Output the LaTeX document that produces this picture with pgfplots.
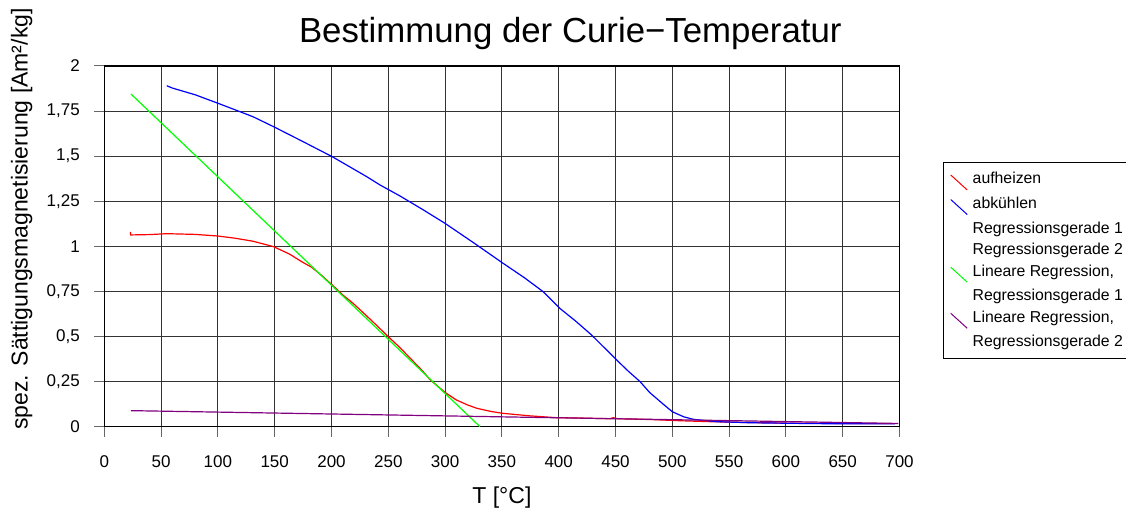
\documentclass[border=0pt]{standalone}
\usepackage{fontspec}
\setmainfont{Liberation Sans}
\usepackage{pgfplots}
\pgfplotsset{compat=1.18}
\definecolor{lgreen}{RGB}{0,255,0}
\definecolor{lpurple}{RGB}{128,0,128}
\begin{document}
\begin{tikzpicture}[x=1pt,y=1pt]
\useasboundingbox (0,0) rectangle (1126,515);
\begin{axis}[
  at={(104.3pt,88.3pt)}, anchor=south west,
  scale only axis, width=795.2pt, height=360.8pt,
  xmin=0, xmax=700, ymin=0, ymax=2,
  xtick={0,50,...,700},
  ytick={0,0.25,0.5,0.75,1,1.25,1.5,1.75,2},
  grid=major,
  major grid style={black!80, line width=1pt},
  axis line style={black, line width=1.5pt},
  tick pos=left,
  tick align=outside, major tick length=10pt,
  tick style={black!60, line width=1pt},
  /pgf/number format/assume math mode=true,
  /pgf/number format/use comma,
  /pgf/number format/1000 sep={},
  yticklabel style={/pgf/number format/fixed, /pgf/number format/precision=2, xshift=-11pt},
  xticklabel style={yshift=-15pt},
  tick label style={font=\fontsize{17}{20}\selectfont},
  every axis title shift=0pt,
  title={Bestimmung der Curie−Temperatur},
  title style={at={(axis description cs:0.586,1.0662)}, anchor=base, font=\fontsize{34.8}{40}\selectfont},
  xlabel={T [°C]},
  xlabel style={at={(axis description cs:0.5,-0.195)}, anchor=center, font=\fontsize{23}{27}\selectfont},
  ylabel={spez. Sättigungsmagnetisierung [Am²/kg]},
  ylabel style={at={(axis description cs:-0.1039,0.5757)}, anchor=center, font=\fontsize{23}{27}\selectfont},
  legend style={at={(axis description cs:1.055,0.7336)}, anchor=north west, draw=black, line width=1pt,
    font=\fontsize{15.8}{21}\selectfont, cells={anchor=base west}, row sep=4.6pt, column sep=3pt,
    inner ysep=8pt},
  legend image code/.code={\draw[#1, line width=1pt] (4pt,9pt) -- (20.5pt,-6pt);},
]
\addplot[red, line width=1.2pt] coordinates {
(23,1.080) (23.2,1.063) (40,1.065) (55,1.070) (80,1.066) (100,1.057) (115,1.045)
(131,1.028) (149,0.998) (163,0.957) (175,0.910) (182.5,0.884) (192,0.835)
(201.6,0.780) (210,0.730) (219,0.684) (230,0.620) (240,0.560) (250,0.499)
(260,0.440) (270,0.375) (280,0.310) (287,0.259) (300,0.190) (310,0.148)
(320,0.120) (328,0.102) (340,0.085) (351,0.074) (375,0.060) (398,0.050)
(420,0.048) (445,0.044) (448,0.050) (452,0.044) (480,0.040) (507,0.033)
(533,0.028) (560,0.024) (600,0.020) (650,0.018) (696,0.017)
};
\addlegendentry{aufheizen}
\addplot[blue, line width=1.2pt] coordinates {
(55,1.890) (60,1.877) (80,1.840) (100,1.793) (115,1.757) (131,1.718) (150,1.660)
(175,1.580) (200.6,1.497) (231,1.386) (242.7,1.340) (260,1.280) (280,1.205)
(300,1.127) (325,1.020) (351,0.906) (370,0.825) (386.4,0.748) (401,0.656)
(415,0.585) (429,0.508) (449.6,0.379) (460,0.315) (471.6,0.250) (480,0.190)
(492,0.125) (500,0.083) (510,0.055) (518.5,0.041) (539,0.028) (568,0.022)
(627,0.017) (696,0.016)
};
\addlegendentry{abkühlen}
\addlegendimage{empty legend}
\addlegendentry{Regressionsgerade 1}
\addlegendimage{empty legend}
\addlegendentry{Regressionsgerade 2\hspace{10pt}}
\addplot[lgreen, line width=1.2pt] coordinates {(23.5,1.844) (330.7,0)};
\addlegendentry{Lineare Regression,}
\addlegendimage{empty legend}
\addlegendentry{Regressionsgerade 1}
\addplot[lpurple, line width=1.2pt] coordinates {(23.5,0.089) (699,0.018)};
\addlegendentry{Lineare Regression,}
\addlegendimage{empty legend}
\addlegendentry{Regressionsgerade 2}
\end{axis}
\end{tikzpicture}
\end{document}
